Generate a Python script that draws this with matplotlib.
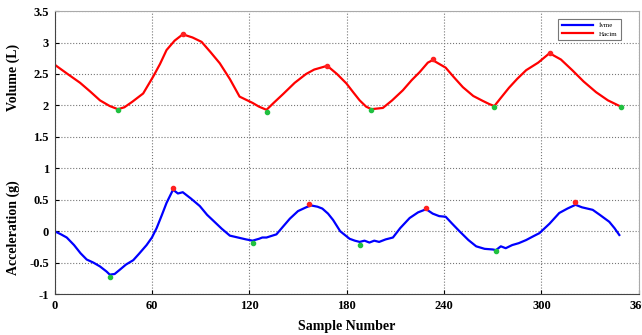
import numpy as np
import matplotlib.pyplot as plt

plt.rcParams['font.family'] = ['Liberation Serif', 'DejaVu Serif']

# volume (red) curve
vol_x = [1, 8, 15.7, 22, 28, 34, 39, 43, 48, 54.6, 60.8, 65, 69, 74, 79, 85, 90.6, 96, 101.8, 108,
         114, 122, 126, 130.6, 135, 140.8, 148, 155, 160, 165.4, 168, 174, 179.8, 184, 188, 192,
         195.2, 202.3, 208, 214.6, 220, 225, 230, 233, 237, 241, 246, 251.6, 258, 264, 268, 271,
         275, 280, 285, 290.6, 298, 305, 312, 319, 326, 333.7, 341, 349]
vol_y = [2.63, 2.50, 2.36, 2.22, 2.08, 1.99, 1.94, 1.97, 2.06, 2.19, 2.46, 2.66, 2.88, 3.03, 3.13,
         3.08, 3.01, 2.85, 2.67, 2.42, 2.14, 2.04, 1.98, 1.93, 2.04, 2.18, 2.36, 2.50, 2.57, 2.61,
         2.63, 2.50, 2.35, 2.21, 2.08, 1.98, 1.94, 1.96, 2.08, 2.24, 2.40, 2.53, 2.68, 2.72, 2.66,
         2.60, 2.45, 2.29, 2.15, 2.07, 2.02, 1.99, 2.12, 2.28, 2.42, 2.56, 2.68, 2.83, 2.73, 2.56,
         2.38, 2.21, 2.08, 1.98]
vol_peak_x = [79, 168, 233, 305]
vol_peak_y = [3.14, 2.63, 2.74, 2.84]
vol_min_x = [39, 130.6, 195.2, 271, 349]
vol_min_y = [1.92, 1.90, 1.93, 1.98, 1.98]

# acceleration (blue) curve
acc_x = [0, 4, 7.5, 12, 16, 19.8, 24, 28, 32, 34, 37, 40.3, 44, 48.5, 52, 56.7, 60, 62.9, 66, 69,
         73, 76, 79, 84, 89.5, 94, 97.7, 103, 108, 113, 118, 122, 126, 128, 130.6, 133, 136.7, 141,
         145, 150, 155, 158, 162, 165, 168.5, 171.6, 176, 181.8, 185, 188, 191, 194, 197, 200, 204,
         208.5, 213, 218.8, 224, 229, 233, 237, 241, 245, 249.5, 255, 259.8, 265, 270, 272, 275,
         278, 282, 286, 290.6, 295, 298.8, 305, 311, 316, 321, 325, 331.6, 336, 341.8, 345, 348]
acc_y = [0.0, -0.05, -0.10, -0.22, -0.35, -0.45, -0.50, -0.56, -0.64, -0.69, -0.68, -0.61, -0.53,
         -0.46, -0.36, -0.22, -0.10, 0.05, 0.25, 0.45, 0.66, 0.60, 0.62, 0.52, 0.40, 0.26, 0.17,
         0.04, -0.07, -0.10, -0.13, -0.15, -0.12, -0.10, -0.10, -0.08, -0.05, 0.08, 0.20, 0.32,
         0.38, 0.41, 0.39, 0.36, 0.28, 0.18, 0.00, -0.12, -0.15, -0.17, -0.15, -0.18, -0.15, -0.17,
         -0.13, -0.10, 0.05, 0.21, 0.30, 0.35, 0.28, 0.24, 0.23, 0.12, 0.00, -0.14, -0.24, -0.28,
         -0.29, -0.30, -0.24, -0.27, -0.22, -0.19, -0.14, -0.08, -0.03, 0.12, 0.29, 0.36, 0.42,
         0.38, 0.34, 0.26, 0.15, 0.05, -0.06]
acc_peak_x = [73, 157, 229, 321]
acc_peak_y = [0.68, 0.44, 0.37, 0.47]
acc_min_x = [34, 122, 188, 272]
acc_min_y = [-0.73, -0.18, -0.22, -0.31]

x_ticks = [0, 60, 120, 180, 240, 300, 360]
y_ticks = [-1, -0.5, 0, 0.5, 1, 1.5, 2, 2.5, 3, 3.5]
y_labels = ['-1', '-0.5', '0', '0.5', '1', '1.5', '2', '2.5', '3', '3.5']

fig = plt.figure(figsize=(6.42, 3.35), dpi=100)
ax = fig.add_axes([0.085, 0.122, 0.91, 0.845])

ax.plot(acc_x, acc_y, color='#0000ff', lw=1.6, label='İvme')
ax.plot(vol_x, vol_y, color='#ff0000', lw=1.6, label='Hacim')
ax.plot(acc_peak_x, acc_peak_y, 'o', color='#ff2020', ms=3)
ax.plot(acc_min_x, acc_min_y, 'o', color='#20c040', ms=3)
ax.plot(vol_peak_x, vol_peak_y, 'o', color='#ff2020', ms=3)
ax.plot(vol_min_x, vol_min_y, 'o', color='#20c040', ms=3)

ax.set_xlim(0, 360)
ax.set_ylim(-1, 3.5)
ax.set_xticks(x_ticks)
ax.set_yticks(y_ticks)
ax.set_yticklabels(y_labels)
ax.tick_params(direction='in', length=3, labelsize=9, pad=4)
for lab in ax.get_xticklabels() + ax.get_yticklabels():
    lab.set_fontweight('bold')
ax.grid(True, linestyle=':', color='#777777', lw=0.8)
for s in ['left', 'bottom']:
    ax.spines[s].set_color('#444444')
for s in ['top', 'right']:
    ax.spines[s].set_color('#aaaaaa')

ax.set_xlabel('Sample Number', fontsize=10, fontweight='bold', labelpad=6)
fig.text(0.02, 0.77, 'Volume (L)', rotation=90, ha='center', va='center',
         fontsize=10, fontweight='bold')
fig.text(0.02, 0.32, 'Acceleration (g)', rotation=90, ha='center', va='center',
         fontsize=10, fontweight='bold')

leg = ax.legend(loc='upper right', bbox_to_anchor=(0.975, 0.985), fontsize=5,
                fancybox=False, edgecolor='#555555', handlelength=4.5, borderpad=0.5,
                labelspacing=0.4)
leg.get_frame().set_linewidth(0.8)

fig.savefig('out.png', dpi=100)
